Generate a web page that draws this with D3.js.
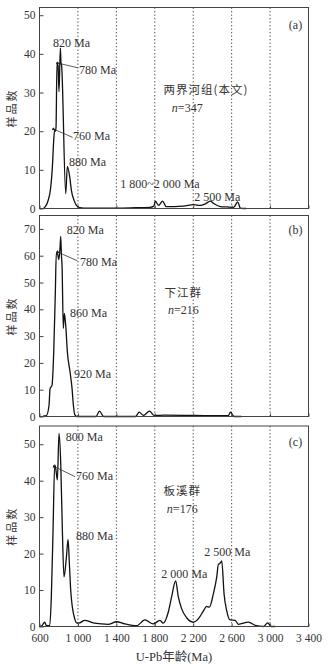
<!DOCTYPE html>
<html>
<head>
<meta charset="utf-8">
<script src="https://cdn.jsdelivr.net/npm/d3@7"></script>
<style>
  body { margin: 0; background: #fff; }
  text { fill: #333; }
</style>
</head>
<body>
<div id="chart"></div>
<script>
let w = 330;
let h = 664;

// x axis
let xTicks = [600, 1000, 1400, 1800, 2200, 2600, 3000, 3400];
let xTickLabels = ["600", "1 000", "1 400", "1 800", "2 200", "2 600", "3 000", "3 400"];
let gridAges = [1000, 1400, 1800, 2200, 2600, 3000];

// (a) 两界河组
let agesA = [640, 654, 689, 717, 734, 748, 758, 765, 772, 782, 793, 803, 817, 824, 830, 873, 890, 915, 932, 960, 984, 1019, 1060, 1200, 1400, 1600, 1750, 1790, 1805, 1839, 1881, 1919, 2000, 2100, 2204, 2274, 2326, 2378, 2413, 2483, 2550, 2621, 2663, 2691, 2720, 2750];
let valsA = [0, 0.3, 2, 5.5, 10.7, 17.7, 20.3, 20, 21, 37.6, 37, 30.2, 41.5, 37.6, 37, 3.8, 10.9, 8.1, 4.7, 2.1, 0.8, 0.2, 0.1, 0.1, 0.1, 0.2, 0.3, 0.6, 1.9, 0.8, 1.9, 0.5, 0.5, 0.6, 1.0, 0.8, 1.2, 1.9, 1.3, 0.5, 0.4, 0.3, 1.7, 0.1, 0, 0];
let yTicksA = [0, 10, 20, 30, 40, 50];

// (b) 下江群
let agesB = [636, 671, 699, 710, 730, 748, 765, 775, 790, 800, 812, 821, 828, 835, 848, 859, 873, 890, 918, 939, 953, 967, 990, 1100, 1189, 1224, 1266, 1400, 1600, 1638, 1683, 1745, 1794, 1900, 2200, 2500, 2565, 2587, 2624, 2700];
let valsB = [0.1, 0.3, 4.1, 10.4, 11.6, 24, 46.6, 61, 60.5, 58.5, 62, 67.2, 60.4, 56, 32.9, 38.5, 34, 24.1, 16.6, 10.4, 4.1, 0.7, 0, 0, 0, 2.0, 0, 0, 0, 1.6, 0.4, 2.0, 0.4, 0.5, 0.4, 0.3, 0.3, 1.6, 0, 0];
let yTicksB = [0, 10, 20, 30, 40, 50, 60, 70];

// (c) 板溪群
let agesC = [600, 626, 640, 654, 670, 706, 723, 741, 758, 768, 786, 803, 821, 838, 855, 880, 897, 911, 925, 942, 967, 991, 1019, 1071, 1158, 1245, 1314, 1401, 1488, 1610, 1697, 1784, 1853, 1888, 1940, 1975, 2017, 2045, 2079, 2131, 2201, 2253, 2305, 2340, 2368, 2410, 2445, 2462, 2473, 2490, 2497, 2521, 2548, 2583, 2636, 2670, 2775, 2845, 2931, 2976, 3011, 3053];
let valsC = [0, 0.2, 0.8, 1.2, 0.3, 0.2, 8, 26.4, 44.3, 43.5, 40.2, 53, 44.8, 26.4, 13.6, 19, 23.9, 17.3, 9.9, 5.3, 2.1, 0.9, 1.0, 1.7, 1.0, 0.7, 0.6, 1.3, 0.7, 0.2, 1.8, 0.7, 1.7, 0.9, 3.9, 8.1, 12.5, 8.1, 4.9, 2.4, 1.2, 2.1, 4.2, 5.5, 5.3, 9, 13.6, 17.1, 17.2, 17.7, 18, 9, 4.4, 1.8, 1.7, 0.6, 1.2, 0.3, 0, 1.0, 0, 0];
let yTicksC = [0, 10, 20, 30, 40, 50];

// peak notes, placed in data units [age, count]
let notesA = [
  { text: "820 Ma", at: [741, 42.9] },
  { text: "780 Ma", at: [1012, 35.8], from: [812, 37.5], to: [1000, 36.4] },
  { text: "760 Ma", at: [949, 18.8], from: [769, 20.3], to: [945, 18.4] },
  { text: "880 Ma", at: [908, 12.0] },
  { text: "1 800~2 000 Ma", at: [1440, 6.5] },
  { text: "2 500 Ma", at: [2211, 3.1] }
];
let notesB = [
  { text: "820 Ma", at: [884, 69.7] },
  { text: "780 Ma", at: [1022, 57.9], from: [811, 61], to: [994, 58.1] },
  { text: "860 Ma", at: [918, 38.7] },
  { text: "920 Ma", at: [960, 16] }
];
let notesC = [
  { text: "800 Ma", at: [873, 52.1] },
  { text: "760 Ma", at: [981, 41.3], from: [775, 43.6], to: [970, 41.1] },
  { text: "880 Ma", at: [981, 24.8] },
  { text: "2 000 Ma", at: [1867, 14.5] },
  { text: "2 500 Ma", at: [2316, 20.6] }
];

let panels = [
  { tag: "(a)", name: "两界河组(本文)", n: "347", ages: agesA, vals: valsA, ticks: yTicksA, max: 52, top: 7.5, bottom: 208.5, notes: notesA, titleAt: [2333, 30.6], nAt: [2138, 26], tagAt: [3265, 47.5] },
  { tag: "(b)", name: "下江群", n: "216", ages: agesB, vals: valsB, ticks: yTicksB, max: 75, top: 215.5, bottom: 416.5, notes: notesB, titleAt: [2097, 46.1], nAt: [2097, 39.7], tagAt: [3265, 69.7] },
  { tag: "(c)", name: "板溪群", n: "176", ages: agesC, vals: valsC, ticks: yTicksC, max: 55, top: 426, bottom: 626.5, notes: notesC, titleAt: [2086, 37.2], nAt: [2086, 32.2], tagAt: [3265, 50.6] }
];

let serif = "'Liberation Serif', 'Times New Roman', serif";
let cjk = "'Noto Sans CJK SC', sans-serif";

let viz = d3.select("#chart")
  .append("svg")
  .attr("width", w)
  .attr("height", h)
  .style("background-color", "white");

viz.append("defs").append("marker")
  .attr("id", "tip")
  .attr("viewBox", "0 0 10 10")
  .attr("refX", 1)
  .attr("refY", 5)
  .attr("markerWidth", 5)
  .attr("markerHeight", 5)
  .attr("orient", "auto-start-reverse")
  .append("path")
  .attr("d", "M0,5 L10,1 L10,9 Z")
  .attr("fill", "#222");

let xScale = d3.scaleLinear().domain([600, 3400]).range([39.5, 308.5]);

panels.forEach((p, i) => {
  let yScale = d3.scaleLinear().domain([0, p.max]).range([p.bottom, p.top]);
  let g = viz.append("g").attr("class", "panel");

  // dotted guides
  g.selectAll(".guide").data(gridAges).enter().append("line")
    .attr("class", "guide")
    .attr("x1", d => xScale(d)).attr("x2", d => xScale(d))
    .attr("y1", p.top).attr("y2", p.bottom)
    .attr("stroke", "#333")
    .attr("stroke-width", 0.9)
    .attr("stroke-dasharray", "1.3,2.2");

  // curve
  let pts = p.ages.map((a, j) => [a, p.vals[j]]);
  let line = d3.line()
    .x(d => xScale(d[0]))
    .y(d => yScale(d[1]))
    .curve(d3.curveMonotoneX);
  g.append("path")
    .datum(pts)
    .attr("d", line)
    .attr("fill", "none")
    .attr("stroke", "#111")
    .attr("stroke-width", 1.3)
    .attr("stroke-linejoin", "round");

  // y axis
  let yAxis = d3.axisLeft(yScale).tickValues(p.ticks).tickSizeInner(-4).tickSizeOuter(0).tickPadding(4);
  let yg = g.append("g").attr("transform", "translate(" + xScale(600) + ",0)").call(yAxis);
  yg.selectAll("text").style("font-family", serif).style("font-size", "11.5px").attr("fill", "#333");
  yg.selectAll("line").attr("stroke", "#444");
  yg.select(".domain").remove();

  // x axis (labels only on the last panel)
  let xAxis = d3.axisBottom(xScale).tickValues(xTicks).tickSizeInner(-3).tickSizeOuter(0).tickPadding(7)
    .tickFormat((d, k) => i == panels.length - 1 ? xTickLabels[k] : "");
  let xg = g.append("g").attr("transform", "translate(0," + p.bottom + ")").call(xAxis);
  xg.selectAll("text").style("font-family", serif).style("font-size", "11.5px").attr("fill", "#333");
  xg.selectAll("line").attr("stroke", "#444");
  xg.select(".domain").remove();

  // frame
  g.append("rect")
    .attr("x", xScale(600)).attr("y", p.top)
    .attr("width", xScale(3400) - xScale(600))
    .attr("height", p.bottom - p.top)
    .attr("fill", "none")
    .attr("stroke", "#444")
    .attr("stroke-width", 1);

  // y title
  g.append("text")
    .attr("transform", "translate(12," + (p.top + p.bottom) / 2 + ") rotate(-90)")
    .attr("text-anchor", "middle")
    .attr("dy", "0.35em")
    .style("font-family", cjk)
    .style("font-size", "11px")
    .style("letter-spacing", "2px")
    .attr("fill", "#666")
    .text("样品数");

  // leader lines
  g.selectAll(".lead").data(p.notes.filter(d => d.from)).enter().append("line")
    .attr("class", "lead")
    .attr("x1", d => xScale(d.from[0])).attr("y1", d => yScale(d.from[1]))
    .attr("x2", d => xScale(d.to[0])).attr("y2", d => yScale(d.to[1]))
    .attr("stroke", "#333")
    .attr("stroke-width", 0.8)
    .attr("marker-start", "url(#tip)");

  // peak notes
  g.selectAll(".note").data(p.notes).enter().append("text")
    .attr("class", "note")
    .attr("x", d => xScale(d.at[0]))
    .attr("y", d => yScale(d.at[1]))
    .attr("dy", "0.35em")
    .style("font-family", serif)
    .style("font-size", "12px")
    .attr("fill", "#333")
    .text(d => d.text);

  // group name
  g.append("text")
    .attr("x", xScale(p.titleAt[0]))
    .attr("y", yScale(p.titleAt[1]))
    .attr("dy", "0.35em")
    .attr("text-anchor", "middle")
    .style("font-family", cjk)
    .style("font-size", "11.5px")
    .style("letter-spacing", "1px")
    .attr("fill", "#666")
    .text(p.name);

  let nt = g.append("text")
    .attr("x", xScale(p.nAt[0]))
    .attr("y", yScale(p.nAt[1]))
    .attr("dy", "0.35em")
    .attr("text-anchor", "middle")
    .style("font-family", serif)
    .style("font-size", "12px")
    .attr("fill", "#444");
  nt.append("tspan").style("font-style", "italic").text("n");
  nt.append("tspan").text("=" + p.n);

  // panel tag
  g.append("text")
    .attr("x", xScale(p.tagAt[0]))
    .attr("y", yScale(p.tagAt[1]))
    .attr("dy", "0.35em")
    .attr("text-anchor", "middle")
    .style("font-family", serif)
    .style("font-size", "12px")
    .attr("fill", "#333")
    .text(p.tag);
});

// x title
viz.append("text")
  .attr("x", (xScale(600) + xScale(3400)) / 2)
  .attr("y", 657)
  .attr("dy", "0.35em")
  .attr("text-anchor", "middle")
  .style("font-family", serif + ", " + cjk)
  .style("font-size", "12.5px")
  .attr("fill", "#333")
  .text("U-Pb年龄(Ma)");
</script>
</body>
</html>
